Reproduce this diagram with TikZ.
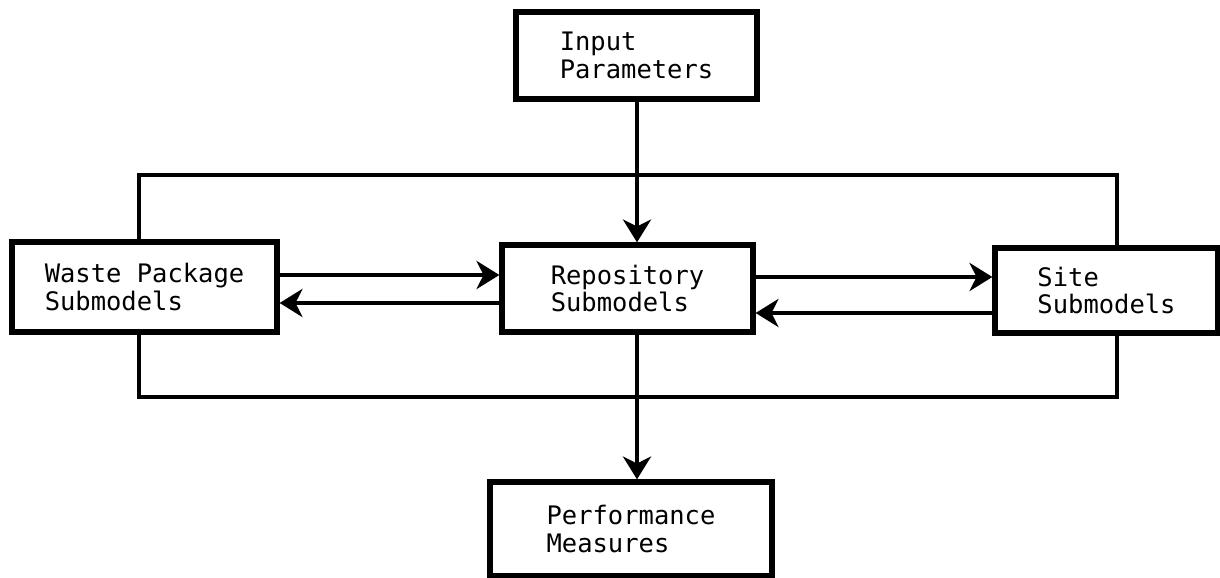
\documentclass[tikz,border=0pt]{standalone}
\usepackage{fontspec}
\setmonofont{DejaVu Sans Mono}
\usetikzlibrary{arrows.meta}

\tikzset{
  box/.style={draw,line width=3pt,align=left,inner sep=0pt,
              font=\ttfamily\fontsize{14.5}{15.8}\selectfont},
  link/.style={line width=2.8pt},
  flow/.style={link,-{Stealth[length=13pt,width=16pt,inset=4pt]}}
}

\begin{document}
\begin{tikzpicture}[scale=1]
  \useasboundingbox (0,0) rectangle (24.4,11.56);
  \node[box,minimum width=4.82cm,minimum height=1.74cm] (inp)  at (12.73,10.45) {Input\\Parameters};
  \node[box,minimum width=5.02cm,minimum height=1.74cm] (repo) at (12.55, 5.79) {Repository\\Submodels};
  \node[box,minimum width=5.30cm,minimum height=1.80cm] (wp)   at ( 2.89, 5.82) {Waste Package\\Submodels};
  \node[box,minimum width=4.46cm,minimum height=1.70cm] (site) at (22.13, 5.75) {Site\\Submodels};
  \node[box,minimum width=5.64cm,minimum height=1.88cm] (perf) at (12.62, 0.98) {Performance\\Measures};
    \coordinate (tl) at ( 2.78,8.06);
    \coordinate (tr) at (22.34,8.06);
    \coordinate (bl) at ( 2.78,3.62);
    \coordinate (br) at (22.34,3.62);
  \draw[link] (wp.north -| tl) -- (tl) -- (tr) -- (site.north -| tr);
  \draw[link] (wp.south -| bl) -- (bl) -- (br) -- (site.south -| br);
  \draw[flow] (inp.south -| 12.74,0) -- (repo.north -| 12.74,0);
  \draw[flow] (repo.south -| 12.74,0) -- (perf.north -| 12.74,0);
  \draw[flow] (wp.east |- 0,6.06)    -- (repo.west |- 0,6.06);
  \draw[flow] (repo.west |- 0,5.50)  -- (wp.east |- 0,5.50);
  \draw[flow] (repo.east |- 0,6.02)  -- (site.west |- 0,6.02);
  \draw[flow] (site.west |- 0,5.30)  -- (repo.east |- 0,5.30);
\end{tikzpicture}
\end{document}
